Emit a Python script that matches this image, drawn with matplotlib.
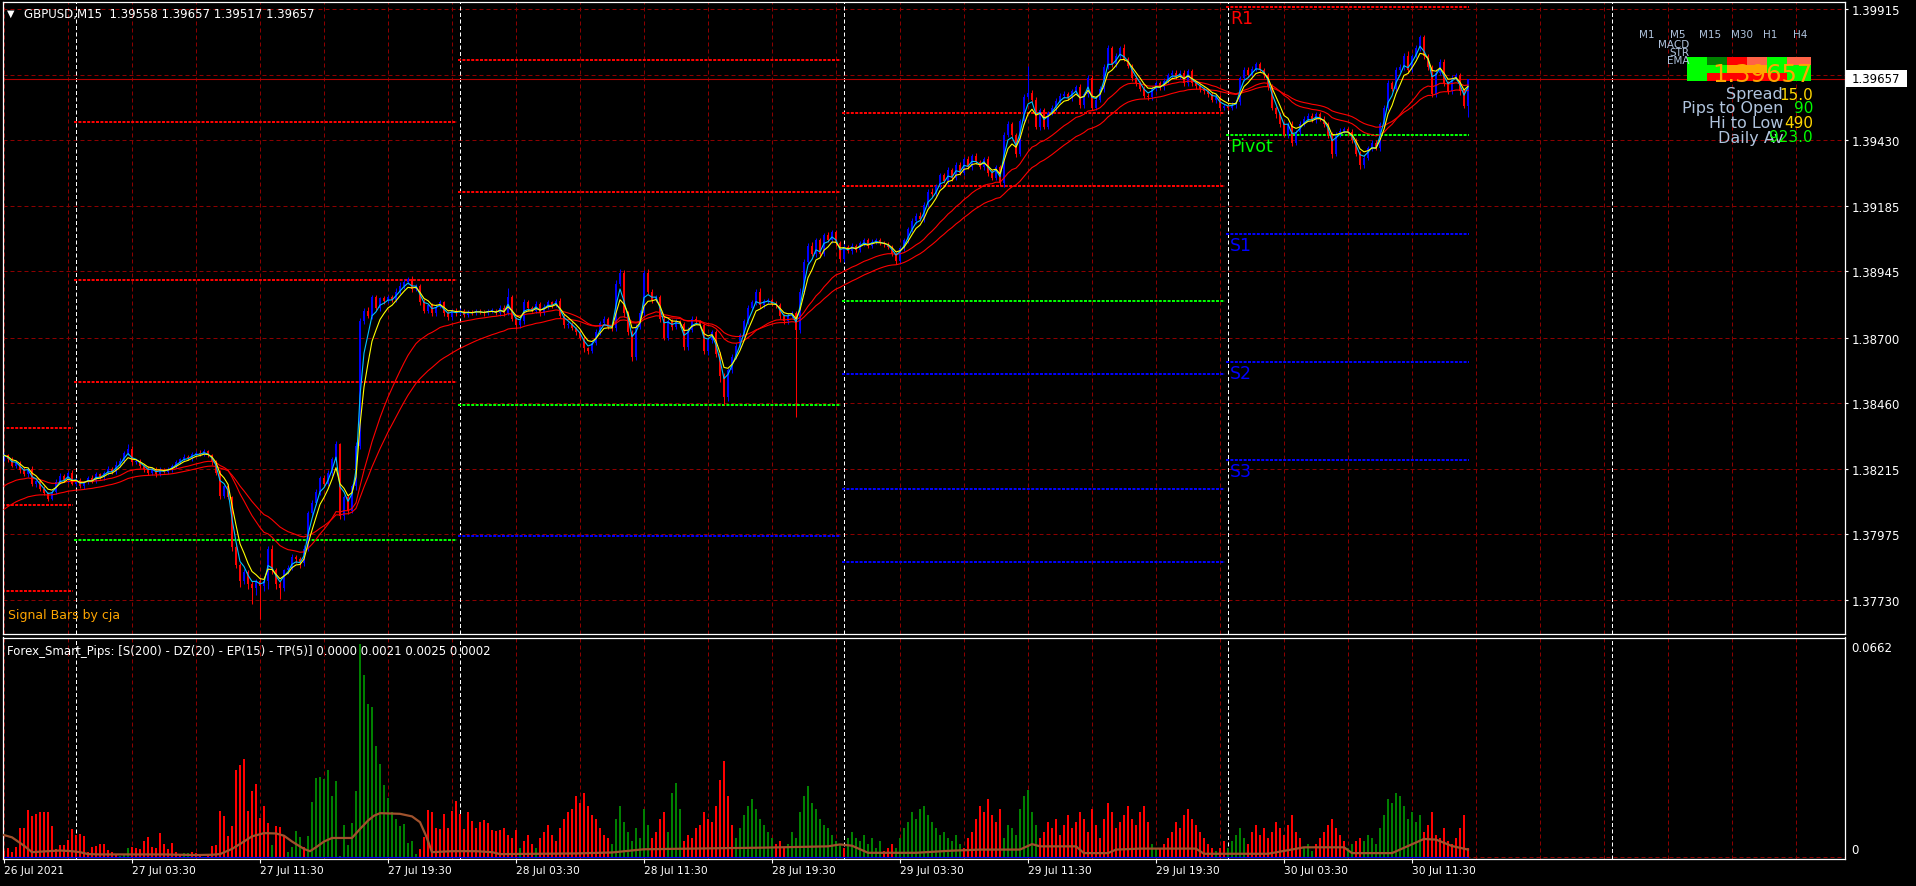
import numpy as np
import pandas as pd
import matplotlib
matplotlib.use("Agg")
import matplotlib.pyplot as plt
from matplotlib.patches import Rectangle
from matplotlib.transforms import blended_transform_factory

W, H = 1916, 887

###################################################################
#   Data
###################################################################

# GBPUSD M15 closes, one per bar, first bar = 26 Jul 19:30
closes = [
    1.38265, 1.38250, 1.38225, 1.38238, 1.38210, 1.38195, 1.38215, 1.38160, 1.38170, 1.38140,
    1.38125, 1.38105, 1.38130, 1.38165, 1.38190, 1.38175, 1.38200, 1.38160, 1.38175, 1.38150,
    1.38165, 1.38180, 1.38170, 1.38195, 1.38185, 1.38200, 1.38215, 1.38205, 1.38230, 1.38245,
    1.38275, 1.38290, 1.38240, 1.38245, 1.38225, 1.38215, 1.38200, 1.38215, 1.38195, 1.38210,
    1.38205, 1.38215, 1.38225, 1.38240, 1.38250, 1.38260, 1.38255, 1.38270, 1.38275, 1.38270,
    1.38280, 1.38265, 1.38240, 1.38200, 1.38115, 1.38150, 1.38110, 1.37925, 1.37860, 1.37800,
    1.37835, 1.37790, 1.37775, 1.37800, 1.37780, 1.37800, 1.37920, 1.37840, 1.37790, 1.37775,
    1.37840, 1.37850, 1.37890, 1.37880, 1.37865, 1.37920, 1.38050, 1.38090, 1.38130, 1.38180,
    1.38160, 1.38200, 1.38250, 1.38305, 1.38040, 1.38110, 1.38060, 1.38150, 1.38300, 1.38760,
    1.38800, 1.38780, 1.38850, 1.38810, 1.38845, 1.38835, 1.38850, 1.38840, 1.38870, 1.38890,
    1.38905, 1.38915, 1.38880, 1.38890, 1.38830, 1.38800, 1.38820, 1.38790, 1.38815, 1.38830,
    1.38790, 1.38775, 1.38800, 1.38790, 1.38800, 1.38785, 1.38795, 1.38790, 1.38800, 1.38795,
    1.38790, 1.38800,
    1.38800, 1.38790, 1.38810, 1.38790, 1.38850, 1.38770, 1.38745, 1.38760,
    1.38830, 1.38810, 1.38800, 1.38825, 1.38790, 1.38815, 1.38830, 1.38820, 1.38835, 1.38780,
    1.38745, 1.38750, 1.38735, 1.38720, 1.38700, 1.38660, 1.38650, 1.38680, 1.38720, 1.38755,
    1.38770, 1.38740, 1.38735, 1.38900, 1.38940, 1.38790, 1.38720, 1.38630, 1.38740, 1.38790,
    1.38940, 1.38870, 1.38840, 1.38850, 1.38770, 1.38700, 1.38760, 1.38740, 1.38760, 1.38750,
    1.38665, 1.38730, 1.38770, 1.38760, 1.38745, 1.38650, 1.38690, 1.38720, 1.38640, 1.38560,
    1.38480, 1.38580, 1.38630, 1.38670, 1.38710, 1.38760, 1.38810, 1.38830, 1.38870, 1.38820,
    1.38835, 1.38840, 1.38825, 1.38820, 1.38780, 1.38760, 1.38780, 1.38790, 1.38730, 1.38870,
    1.38980, 1.39040, 1.39010, 1.39060, 1.39010, 1.39080, 1.39060, 1.39090, 1.39050, 1.38990,
    1.39035, 1.39020, 1.39040, 1.39025, 1.39050, 1.39060, 1.39040, 1.39055, 1.39060, 1.39050,
    1.39045, 1.39035, 1.39010, 1.38985, 1.39030, 1.39060, 1.39100, 1.39130, 1.39150, 1.39140,
    1.39190, 1.39240, 1.39230, 1.39260, 1.39300, 1.39280, 1.39320, 1.39290, 1.39340, 1.39310,
    1.39360, 1.39330, 1.39370, 1.39350,
    1.39330, 1.39360, 1.39310, 1.39290, 1.39330, 1.39270,
    1.39450, 1.39490, 1.39450, 1.39380, 1.39500, 1.39590, 1.39605, 1.39580, 1.39480, 1.39540,
    1.39480, 1.39530, 1.39550, 1.39575, 1.39595, 1.39600, 1.39585, 1.39610, 1.39625, 1.39560,
    1.39600, 1.39660, 1.39550, 1.39580, 1.39620, 1.39700, 1.39770, 1.39710, 1.39740, 1.39770,
    1.39730, 1.39705, 1.39660, 1.39640, 1.39620, 1.39595, 1.39590, 1.39620, 1.39640, 1.39625,
    1.39650, 1.39670, 1.39680, 1.39665, 1.39680, 1.39640, 1.39685, 1.39640, 1.39630, 1.39620,
    1.39610, 1.39600, 1.39580, 1.39590, 1.39550, 1.39555, 1.39550, 1.39560, 1.39570, 1.39660,
    1.39690, 1.39670, 1.39695, 1.39710, 1.39690, 1.39670, 1.39625, 1.39550, 1.39525, 1.39490,
    1.39450, 1.39490, 1.39420, 1.39460, 1.39490, 1.39510, 1.39520, 1.39505, 1.39525, 1.39510,
    1.39490, 1.39450, 1.39380, 1.39450, 1.39465, 1.39470, 1.39460, 1.39430, 1.39380, 1.39340,
    1.39365, 1.39400, 1.39420, 1.39400, 1.39490, 1.39550, 1.39640, 1.39620, 1.39690, 1.39700,
    1.39740, 1.39690, 1.39740, 1.39770, 1.39810, 1.39740, 1.39700, 1.39600, 1.39680, 1.39720,
    1.39640, 1.39610, 1.39660, 1.39670, 1.39610, 1.39558, 1.39657,
]
first_open = 1.38250

# wick lengths above / below the body, in points (1e-5)
hi_wick = [
    8, 6, 10, 5, 7, 12, 6, 9, 5, 8, 11, 6, 7, 13, 9, 6, 8, 10, 5, 7,
    6, 9, 12, 7, 5, 8, 10, 6, 14, 9, 7, 18, 10, 6, 8, 5, 9, 7, 6, 10,
    8, 5, 7, 9, 6, 11, 7, 8, 6, 10, 9, 5, 6, 8, 12, 7, 10, 6, 9, 8,
    10, 7, 9, 6, 12, 8, 9, 14, 7, 10, 6, 8, 11, 7, 9, 12, 8, 10, 9, 7,
    12, 9, 8, 14, 6, 10, 7, 9, 15, 11, 10, 12, 8, 9, 7, 10, 8, 9, 12, 14,
    10, 8, 12, 9, 7, 11, 6, 9, 8, 10, 7, 9, 6, 8, 10, 7, 9, 8, 6, 7,
    9, 6, 8, 7, 10, 9, 35, 8, 7, 9, 12, 8, 6, 9, 7, 10, 8, 6, 9, 11,
    8, 7, 9, 6, 10, 8, 7, 9, 11, 8, 10, 7, 9, 14, 12, 10, 9, 8, 11, 13,
    10, 12, 8, 9, 7, 11, 9, 8, 10, 7, 9, 8, 11, 10, 7, 9, 8, 10, 9, 7,
    9, 8, 10, 12, 7, 9, 11, 8, 10, 14, 9, 8, 7, 10, 9, 8, 11, 9, 10, 12,
    9, 11, 14, 10, 9, 8, 10, 7, 9, 8, 10, 7, 9, 8, 7, 9, 8, 10, 7, 8,
    9, 7, 8, 6, 9, 8, 10, 12, 9, 14, 10, 9, 12, 8, 10, 9, 11, 8, 10, 9,
    8, 10, 9, 12, 8, 9, 10, 8, 7, 9, 12, 10, 9, 8, 10, 9, 100, 10, 8, 9,
    10, 8, 9, 11, 8, 10, 7, 9, 8, 12, 9, 11, 10, 8, 9, 10, 12, 9, 11, 10,
    14, 9, 8, 10, 9, 11, 8, 9, 10, 7, 9, 8, 10, 9, 11, 8, 9, 10, 8, 9,
    8, 10, 7, 9, 8, 10, 9, 11, 8, 9, 12, 10, 8, 9, 10, 8, 9, 11, 8, 10,
    9, 8, 10, 9, 11, 8, 10, 9, 8, 10, 9, 8, 11, 9, 10, 8, 9, 10, 8, 9,
    10, 8, 9, 11, 8, 10, 12, 9, 11, 10, 12, 20, 9, 11, 10, 9, 10, 8, 12, 11,
    10, 9, 11, 8, 10, 9, 0,
]
lo_wick = [
    7, 9, 5, 8, 10, 6, 9, 7, 12, 8, 6, 10, 7, 9, 5, 8, 11, 6, 9, 7,
    10, 6, 8, 9, 7, 11, 6, 8, 9, 7, 10, 8, 12, 9, 7, 10, 8, 6, 9, 8,
    7, 9, 10, 6, 8, 7, 9, 11, 8, 6, 9, 7, 10, 8, 12, 9, 7, 14, 10, 22,
    12, 18, 60, 25, 120, 15, 30, 12, 18, 40, 10, 14, 9, 12, 16, 10, 8, 12, 9, 11,
    10, 8, 12, 9, 10, 14, 11, 9, 12, 10, 8, 9, 11, 7, 10, 9, 8, 10, 9, 7,
    9, 8, 10, 7, 11, 9, 8, 10, 9, 7, 10, 8, 9, 11, 8, 10, 9, 7, 8, 9,
    10, 8, 9, 7, 11, 9, 8, 10, 12, 9, 8, 10, 7, 9, 11, 8, 10, 9, 7, 8,
    9, 10, 8, 11, 9, 12, 10, 8, 9, 11, 10, 8, 12, 9, 10, 14, 11, 18, 12, 9,
    10, 9, 11, 8, 12, 10, 9, 11, 8, 10, 12, 9, 8, 10, 11, 9, 13, 10, 12, 25,
    30, 15, 10, 9, 11, 8, 10, 9, 8, 11, 9, 10, 8, 9, 11, 10, 9, 8, 324, 12,
    10, 9, 8, 11, 9, 10, 8, 9, 12, 10, 9, 8, 10, 9, 8, 11, 9, 10, 8, 9,
    10, 9, 8, 11, 12, 10, 9, 8, 10, 9, 11, 8, 9, 10, 8, 9, 11, 10, 8, 9,
    10, 8, 11, 9, 8, 10, 12, 9, 8, 10, 12, 9, 8, 11, 10, 9, 8, 10, 9, 11,
    9, 10, 8, 11, 9, 10, 8, 9, 11, 10, 12, 9, 8, 10, 9, 11, 8, 10, 9, 10,
    8, 9, 11, 10, 9, 8, 10, 12, 9, 8, 10, 9, 11, 8, 10, 9, 8, 10, 9, 11,
    10, 9, 8, 11, 12, 10, 9, 8, 10, 9, 11, 8, 9, 10, 8, 11, 10, 9, 12, 10,
    9, 11, 10, 8, 12, 9, 10, 8, 11, 9, 10, 12, 15, 9, 10, 8, 11, 9, 10, 18,
    12, 9, 10, 8, 11, 9, 10, 8, 12, 9, 10, 11, 9, 8, 10, 9, 12, 10, 9, 8,
    11, 9, 10, 8, 12, 10, 41,
]

# EMA start values (where the two slow red lines enter the chart)
seed_ema21 = 1.38140
seed_ema34 = 1.38053

# Forex_Smart_Pips histogram
hist_vals = [
    .0020, .0030, .0016, .0031, .0090, .0090, .0147, .0129, .0134, .0142,
    .0140, .0142, .0097, .0026, .0038, .0038, .0054, .0087, .0069, .0071,
    .0066, .0016, .0031, .0034, .0042, .0040, .0023, .0018, .0009, .0005,
    .0010, .0029, .0032, .0030, .0026, .0052, .0063, .0033, .0028, .0074,
    .0040, .0026, .0044, .0016, .0010, .0012, .0013, .0016, .0013, .0003,
    .0002, .0007, .0035, .0038, .0144, .0129, .0065, .0097, .0271, .0287,
    .0305, .0144, .0207, .0227, .0122, .0158, .0107, .0038, .0098, .0093,
    .0067, .0018, .0031, .0082, .0063, .0031, .0065, .0173, .0245, .0249,
    .0243, .0271, .0190, .0237, .0003, .0100, .0038, .0107, .0206, .0662,
    .0566, .0475, .0468, .0344, .0290, .0225, .0183, .0142, .0119, .0096,
    .0103, .0044, .0052, .0009, .0026, .0062, .0147, .0142, .0090, .0088,
    .0134, .0090, .0144, .0174, .0134, .0088, .0142, .0114, .0090, .0110,
    .0115, .0106, .0084, .0082, .0086,
    .0090, .0070, .0060, .0085, .0030, .0050, .0070, .0040, .0030, .0060,
    .0080, .0100, .0070, .0050, .0090, .0120, .0140, .0150, .0190, .0170,
    .0200, .0160, .0130, .0120, .0090, .0070, .0060, .0040, .0120, .0160,
    .0110, .0080, .0050, .0090, .0060, .0150, .0100, .0060, .0080, .0120,
    .0140, .0080, .0200, .0230, .0150, .0050, .0070, .0060, .0090, .0100,
    .0140, .0120, .0110, .0160, .0240, .0300, .0190, .0100, .0060, .0090,
    .0130, .0160, .0180, .0150, .0120, .0100, .0080, .0060, .0040, .0050,
    .0030, .0040, .0080, .0060, .0140, .0190, .0220, .0170, .0150, .0120,
    .0100, .0090, .0070, .0050, .0040, .0030, .0060, .0080, .0060, .0050,
    .0070, .0040, .0060, .0030, .0050, .0020, .0030, .0040, .0030, .0060,
    .0090, .0110, .0140, .0120, .0150, .0160, .0130, .0110, .0090, .0070,
    .0080, .0060, .0050, .0070, .0040, .0030, .0060, .0080, .0120, .0160,
    .0140, .0180, .0130, .0110, .0150, .0060, .0100, .0090, .0070, .0150,
    .0190, .0210, .0140, .0100, .0060, .0080, .0110, .0090, .0120, .0070,
    .0100, .0130, .0090, .0110, .0140, .0120, .0080, .0150, .0100, .0060,
    .0120, .0170, .0140, .0090, .0110, .0130, .0160, .0120, .0100, .0140,
    .0160, .0110, .0040, .0030, .0030, .0040, .0060, .0080, .0110, .0090,
    .0130, .0150, .0120, .0100, .0080, .0060, .0040, .0030, .0020, .0030,
    .0050, .0030, .0050, .0070, .0090, .0060, .0040, .0080, .0100, .0070,
    .0090, .0060, .0080, .0110, .0090, .0070, .0100, .0130, .0080, .0060,
    .0030, .0040, .0020, .0040, .0060, .0080, .0100, .0120, .0090, .0070,
    .0050, .0030, .0040, .0050, .0060, .0050, .0070, .0060, .0040, .0090,
    .0130, .0180, .0170, .0200, .0190, .0160, .0120, .0140, .0110, .0130,
    .0080, .0100, .0140, .0070, .0060, .0090, .0050, .0040, .0060, .0090,
    .0130, .0030,
]
# r = falling bar, g = rising bar
hist_cols = ("r" * 29 + "g" * 3 + "r" * 13 + "g" * 2 + "r" * 20 + "g" + "r" * 3
             + "g" * 4 + "r" + "g" * 28 + "r" * 21
             + "r" * 4 + "g" + "r" * 3 + "g" + "r" * 18 + "g" * 10 + "r" * 4
             + "g" * 4 + "r" * 13 + "g" * 10 + "r" * 3 + "g" * 14 + "r" + "g" * 9
             + "r" * 3 + "g" * 17 + "r" * 10 + "g" * 9 + "r" * 28 + "g" * 2
             + "r" * 14 + "g" + "r" * 2 + "g" * 5 + "r" * 14 + "g" * 3 + "r" * 8
             + "g" * 2 + "r" * 2 + "g" * 15 + "r" * 12)

# signal line of the sub window (bar, value)
brown_x = [0, 2, 5, 7, 11, 14, 17, 19, 21, 24, 40, 48, 52, 54, 57, 60, 62, 65, 68, 70,
           72, 75, 76.5, 78, 80, 82, 87, 89, 91, 92.5, 94, 99, 102, 104, 105.5, 107, 112,
           118, 122, 124, 143, 152, 160, 172, 190, 206, 209, 212, 216, 228, 236, 244, 254,
           257, 259, 268, 270, 276, 278, 284, 298, 300, 316, 325, 335, 337, 347, 351, 355,
           358, 362, 366]
brown_y = [.0069, .0062, .0036, .0016, .0019, .0021, .0019, .0016, .0010, .0009, .0009,
           .0007, .0008, .0010, .0026, .0049, .0065, .0075, .0074, .0067, .0049, .0026,
           .0019, .0031, .0049, .0060, .0060, .0088, .0114, .0129, .0137, .0135, .0127,
           .0109, .0067, .0016, .0019, .0019, .0016, .0010, .0012, .0015, .0025, .0027,
           .0030, .0034, .0040, .0036, .0014, .0014, .0020, .0024, .0024, .0041, .0034,
           .0034, .0013, .0013, .0024, .0027, .0027, .0011, .0011, .0031, .0031, .0013,
           .0013, .0035, .0057, .0055, .0035, .0024]

# daily pivot levels: day start bar, day end bar, R lines, pivot, S lines
day_start = [-0.4, 17.6, 113.6, 209.6, 305.6]
day_end = [17.3, 113.3, 209.3, 305.3, 366.3]
piv_r = [[1.38365, 1.38080, 1.37762], [1.39496, 1.38912, 1.38535], [1.39726, 1.39237],
         [1.39531, 1.39260], [1.39921]]
piv_p = [None, 1.37951, 1.38451, 1.38834, 1.39449]
piv_s = [[], [], [1.37966], [1.38566, 1.38140, 1.37871], [1.39083, 1.38610, 1.38249]]

price_ticks = [1.39915, 1.39430, 1.39185, 1.38945, 1.38700, 1.38460, 1.38215, 1.37975, 1.37730]
grid_prices = [1.39915, 1.39672, 1.39430, 1.39185, 1.38945, 1.38700, 1.38460, 1.38215,
               1.37975, 1.37730]
bid = 1.39657

time_ticks = [0, 32, 64, 96, 128, 160, 192, 224, 256, 288, 320, 352]
time_labels = ["26 Jul 2021", "27 Jul 03:30", "27 Jul 11:30", "27 Jul 19:30", "28 Jul 03:30",
               "28 Jul 11:30", "28 Jul 19:30", "29 Jul 03:30", "29 Jul 11:30", "29 Jul 19:30",
               "30 Jul 03:30", "30 Jul 11:30"]
day_seps = [18, 114, 210, 306, 402]

tf_names = ["M1", "M5", "M15", "M30", "H1", "H4"]
sig_rows = [["#00FF00", "#008000", "#FF0000", "#FF6347", "#00FF00", "#FF6347"],
            ["#00FF00", "#00FF00", "#FFA500", "#FFA500", "#00FF00", "#00FF00"],
            ["#00FF00", "#FF0000", "#FF0000", "#FF0000", "#FF0000", "#00FF00"]]
info_names = ["Spread", "Pips to Open", "Hi to Low", "Daily Av"]
info_vals = ["15.0", "90", "490", "923.0"]
info_cols = ["#FFD700", "#00FF00", "#FFD700", "#00FF00"]

###################################################################
#   Figure
###################################################################
GRID = "#8C0000"
FG = "#FFFFFF"
LBL = "#B0C4DE"


def fx(px):
    return px / W


def fy(py):
    return 1 - py / H


fig = plt.figure(figsize=(W / 100, H / 100), dpi=100, facecolor="black")
ax = fig.add_axes([fx(2.5), fy(634.5), (1844.5 - 2.5) / W, (634.5 - 2.5) / H], facecolor="black")
ax2 = fig.add_axes([fx(2.5), fy(859.5), (1844.5 - 2.5) / W, (859.5 - 638.5) / H], facecolor="black")

xl = (-0.375, 460.125)
for a in (ax, ax2):
    a.set_xlim(*xl)
    for s in a.spines.values():
        s.set_color(FG)
        s.set_linewidth(0.9)
    for t in range(0, 460, 16):
        a.axvline(t, color=GRID, lw=0.72, ls=(0, (4, 3)), zorder=0.5)
    for d in day_seps:
        a.axvline(d, color=FG, lw=0.72, ls=(0, (4, 2.5)), zorder=0.6)

ax.set_ylim(1.376062, 1.399427)
ax2.set_ylim(-0.00037, 0.06823)

for p in grid_prices:
    ax.axhline(p, color=GRID, lw=0.72, ls=(0, (4, 3)), zorder=0.5)
ax.axhline(bid, color="#B40000", lw=0.8, zorder=0.7)

# pivot lines
dot = (0, (1.5, 0.7))
for i in range(len(day_start)):
    xs = [day_start[i], day_end[i]]
    for r in piv_r[i]:
        ax.plot(xs, [r, r], color="#FF0000", lw=1.44, ls=dot, zorder=1)
    if piv_p[i] is not None:
        ax.plot(xs, [piv_p[i]] * 2, color="#00FF00", lw=1.44, ls=dot, zorder=1)
    for s in piv_s[i]:
        ax.plot(xs, [s, s], color="#0000FF", lw=1.44, ls=dot, zorder=1)

last = len(day_start) - 1
names = [("R1", piv_r[last][0], "#FF0000"), ("Pivot", piv_p[last], "#00FF00"),
         ("S1", piv_s[last][0], "#0000FF"), ("S2", piv_s[last][1], "#0000FF"),
         ("S3", piv_s[last][2], "#0000FF")]
for txt, lvl, col in names:
    ax.annotate(txt, (day_start[last], lvl), xytext=(2.5, -8), textcoords="offset points",
                va="center", ha="left", color=col, fontsize=12.5)

# candles
c = np.array(closes)
n = len(c)
o = np.concatenate([[first_open], c[:-1]])
x = np.arange(n)
top = np.maximum(o, c)
bot = np.minimum(o, c)
hi = top + np.array(hi_wick[:n]) * 1e-5
lo = bot - np.array(lo_wick[:n]) * 1e-5
ccol = np.where(c >= o, "#0000FF", "#FF0000")
ax.vlines(x, lo, hi, colors=ccol, lw=0.75, zorder=2)
ax.bar(x, np.maximum(top - bot, 0.00004), bottom=bot, width=0.66, color=ccol, lw=0,
       zorder=2.1, antialiased=False)


# moving averages
def ema(vals, span, seed):
    s = pd.Series([seed] + list(vals))
    return s.ewm(span=span, adjust=False).mean().values[1:]


ax.plot(x, ema(c, 34, seed_ema34), color="#FF0000", lw=0.8, zorder=3)
ax.plot(x, ema(c, 21, seed_ema21), color="#FF0000", lw=0.8, zorder=3)
ax.plot(x, ema(c, 5, c[0]), color="#FFFF00", lw=0.8, zorder=3.2)
ax.plot(x, ema(c, 3, c[0]), color="#00BFFF", lw=0.8, zorder=3.1)

# price axis
ax.yaxis.tick_right()
ax.set_yticks(price_ticks)
ax.set_yticklabels(["%.5f" % p for p in price_ticks])
ax.tick_params(axis="y", colors=FG, labelsize=8.5, length=2.5, pad=2.5, width=0.8)
ax.tick_params(axis="x", bottom=False, labelbottom=False)

tr = blended_transform_factory(fig.transFigure, ax.transData)
ax.add_patch(Rectangle((fx(1846), bid - 8.5 * 3.697e-5), fx(1907) - fx(1846), 17 * 3.697e-5,
                       transform=tr, facecolor="white", edgecolor="none", clip_on=False, zorder=5))
ax.text(fx(1852), bid, "%.5f" % bid, transform=tr, color="black", fontsize=8.5,
        va="center", ha="left", zorder=6)

# sub window
hc = {"r": "#FF0000", "g": "#008000"}
hv = np.array(hist_vals)
cols = [hc[k] for k in hist_cols[:len(hv)]]
ax2.axhline(0, color=GRID, lw=0.72, ls=(0, (4, 3)), zorder=0.5)
ax2.bar(np.arange(len(cols)), hv[:len(cols)], width=0.66, color=cols, lw=0, zorder=2,
        antialiased=False)
ax2.plot([0, n - 1], [0, 0], color="#0000FF", lw=0.8, zorder=2.5)
ax2.plot(brown_x, brown_y, color="#A0522D", lw=1.6, zorder=3)
ax2.set_yticks([])
ax2.set_xticks(time_ticks)
ax2.set_xticklabels(time_labels, ha="left")
ax2.tick_params(axis="x", colors=FG, labelsize=7.7, length=3, pad=2, width=0.8)

fig.text(fx(1851), fy(648), "0.0662", color=FG, fontsize=8.5, va="center", ha="left")
fig.text(fx(1851), fy(851), "0", color=FG, fontsize=8.5, va="center", ha="left")

# texts
fig.text(fx(7), fy(14), "\u25BC", color=FG, fontsize=7, va="center", ha="left")
fig.text(fx(24), fy(14.5), "GBPUSD,M15  1.39558 1.39657 1.39517 1.39657", color=FG,
         fontsize=8.5, va="center", ha="left")
fig.text(fx(8), fy(616), "Signal Bars by cja", color="#FFA500", fontsize=9, va="center")
fig.text(fx(7), fy(651.5),
         "Forex_Smart_Pips: [S(200) - DZ(20) - EP(15) - TP(5)] 0.0000 0.0021 0.0025 0.0002",
         color=FG, fontsize=8.5, va="center", ha="left")

# signal bars panel
tf_x = [1647, 1678, 1710, 1742, 1770, 1800]
for name, px in zip(tf_names, tf_x):
    fig.text(fx(px), fy(35), name, color=LBL, fontsize=7.5, ha="center", va="center")
for name, py in zip(["MACD", "STR", "EMA"], [45, 52.5, 61]):
    fig.text(fx(1689), fy(py), name, color=LBL, fontsize=7.5, ha="right", va="center")
cell_x = [1687, 1707, 1727, 1747, 1767, 1787, 1811]
cell_y = [58, 66, 73.5, 82]
for r, row in enumerate(sig_rows):
    for k, col in enumerate(row):
        fig.add_artist(Rectangle((fx(cell_x[k]), fy(cell_y[r + 1])),
                                 fx(cell_x[k + 1]) - fx(cell_x[k]),
                                 (cell_y[r + 1] - cell_y[r]) / H,
                                 transform=fig.transFigure, facecolor=col, edgecolor="none",
                                 zorder=1))
fig.text(fx(1813), fy(75), "%.5f" % bid, color="#FFA500", fontsize=17.5, ha="right",
         va="center", zorder=4)
for name, val, col, py in zip(info_names, info_vals, info_cols, [95, 108.5, 124, 138]):
    fig.text(fx(1783), fy(py), name, color=LBL, fontsize=11.5, ha="right", va="center", zorder=4)
    fig.text(fx(1813), fy(py), val, color=col, fontsize=11, ha="right", va="center", zorder=5)

fig.savefig("out.png", dpi=100, facecolor="black")
